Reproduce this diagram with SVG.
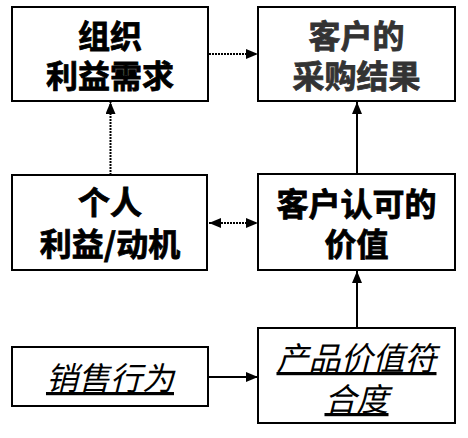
<svg xmlns="http://www.w3.org/2000/svg" width="468" height="438" viewBox="0 0 468 438">
<style>
.box{fill:#fff;stroke:#000;stroke-width:2}
.t{font-family:"Noto Sans CJK SC","Noto Sans CJK JP",sans-serif;font-size:32px;text-anchor:middle}
.b{font-weight:bold;stroke:#000;stroke-width:0.8}
.g{fill:#333;stroke:#333}
.i{font-style:italic;font-weight:normal;text-decoration:underline}
.dot{stroke:#000;stroke-width:2;stroke-dasharray:2 1;fill:none}
.sol{stroke:#000;stroke-width:2;fill:none}
</style>
<defs>
<marker id="ah" viewBox="0 0 12 10" refX="12" refY="5" markerWidth="12" markerHeight="10" markerUnits="userSpaceOnUse" orient="auto-start-reverse">
<path d="M0,0 L12,5 L0,10 Z" fill="#000"/>
</marker>
</defs>
<rect width="468" height="438" fill="#fff"/>
<g id="connectors">
<line class="dot" x1="209" y1="54" x2="258" y2="54" marker-end="url(#ah)"/>
<line class="dot" x1="110.5" y1="175" x2="110.5" y2="102" marker-end="url(#ah)"/>
<line class="sol" x1="357" y1="174" x2="357" y2="102" marker-end="url(#ah)"/>
<line class="dot" x1="209" y1="223" x2="258" y2="223" marker-start="url(#ah)" marker-end="url(#ah)"/>
<line class="sol" x1="357" y1="328" x2="357" y2="271" marker-end="url(#ah)"/>
<line class="sol" x1="209" y1="377" x2="258" y2="377" marker-end="url(#ah)"/>
</g>
<g id="n1">
<rect class="box" x="12" y="7" width="196" height="94"/>
<text class="t b"><tspan x="110" y="48">组织</tspan><tspan x="110" y="88">利益需求</tspan></text>
</g>
<g id="n2">
<rect class="box" x="258" y="7" width="197" height="94"/>
<text class="t b g"><tspan x="356.5" y="48">客户的</tspan><tspan x="356.5" y="88">采购结果</tspan></text>
</g>
<g id="n3">
<rect class="box" x="12" y="175" width="195" height="95"/>
<text class="t b"><tspan x="110" y="214">个人</tspan><tspan x="110" y="256">利益/动机</tspan></text>
</g>
<g id="n4">
<rect class="box" x="258" y="174" width="197" height="96"/>
<text class="t b"><tspan x="356.5" y="216">客户认可的</tspan><tspan x="356.5" y="256">价值</tspan></text>
</g>
<g id="n5">
<rect class="box" x="12" y="347" width="196" height="59"/>
<text class="t i" x="110" y="390">销售行为</text>
</g>
<g id="n6">
<rect class="box" x="258" y="328" width="197" height="95"/>
<text class="t i"><tspan x="356.5" y="370">产品价值符</tspan><tspan x="356.5" y="411">合度</tspan></text>
</g>
</svg>
